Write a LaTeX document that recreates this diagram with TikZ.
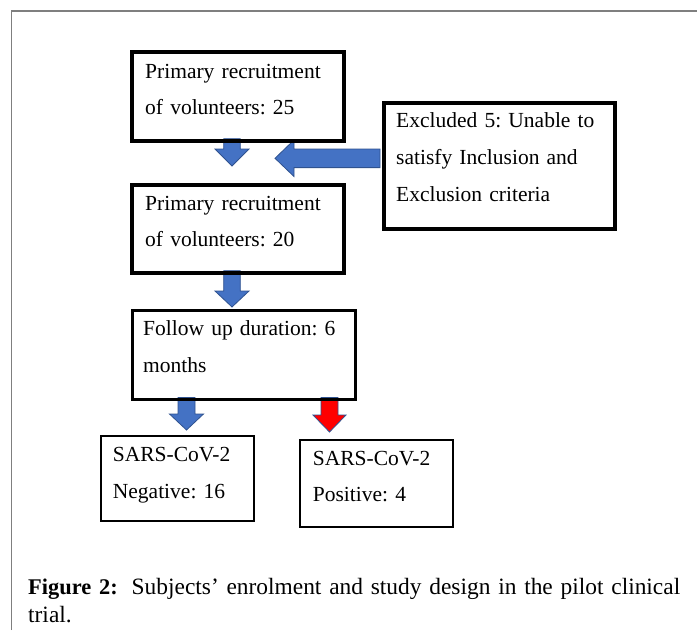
\documentclass[tikz,border=0pt]{standalone}
\usepackage{fontspec}
\setmainfont{Liberation Serif}
\frenchspacing
\newcommand{\boxfont}{\fontsize{21.5}{36.5}\selectfont}
\newcommand{\capfont}{\fontsize{23.4}{28}\selectfont}
\definecolor{arrowblue}{HTML}{4472C4}
\definecolor{arrowedge}{HTML}{2F528F}
\definecolor{framegray}{HTML}{7F7F7F}
\begin{document}
\frenchspacing
\begin{tikzpicture}[x=1pt,y=-1pt,
  bluearrow/.style={fill=arrowblue, draw=arrowedge, line width=0.8pt, line join=miter},
  redarrow/.style={fill=red, draw=arrowedge, line width=0.8pt, line join=miter},
  boxA/.style={draw=black, line width=4pt, rectangle, inner sep=0pt, anchor=north west},
  boxB/.style={draw=black, line width=3pt, rectangle, inner sep=0pt, anchor=north west},
  boxC/.style={draw=black, line width=1.8pt, rectangle, inner sep=0pt, anchor=north west},
  txt/.style={anchor=base west, inner sep=0pt, align=left, font=\boxfont},
  captxt/.style={anchor=base west, inner sep=0pt, align=left, font=\capfont}]
\useasboundingbox (0,0) rectangle (697,630);
\fill[white] (0,0) rectangle (697,630);
% frame
\draw[framegray, line width=1.3pt] (11.5,630) -- (11.5,11) -- (697,11);
% block arrows (drawn first, behind boxes)
\path[bluearrow] (223.7,138.7) -- (240.3,138.7) -- (240.3,149) -- (249,149) -- (232,166) -- (215,149) -- (223.7,149) -- cycle;
\path[bluearrow] (380,149) -- (294,149) -- (294,140) -- (275,158.3) -- (294,176.5) -- (294,167.6) -- (380,167.6) -- cycle;
\path[bluearrow] (223.7,270.7) -- (240.3,270.7) -- (240.3,291) -- (249,291) -- (232,307) -- (215,291) -- (223.7,291) -- cycle;
\path[bluearrow] (178,397.5) -- (195,397.5) -- (195,414) -- (203.5,414) -- (186.5,430) -- (169.5,414) -- (178,414) -- cycle;
\path[redarrow] (321,397.5) -- (338,397.5) -- (338,415) -- (346,415) -- (329.5,432) -- (313,415) -- (321,415) -- cycle;
% boxes
\node[boxA, minimum width=211.7pt, minimum height=88.4pt] (b1) at (130.3,50.3) {};
\node[boxA, minimum width=212pt, minimum height=88pt] (b2) at (130.3,182.7) {};
\node[boxA, minimum width=231pt, minimum height=126pt] (ex) at (382,101) {};
\node[boxB, minimum width=223.7pt, minimum height=88.7pt] (b3) at (130.5,308.8) {};
\node[boxC, minimum width=153pt, minimum height=85pt] (neg) at (100.3,435.3) {};
\node[boxC, minimum width=153pt, minimum height=86.7pt] (pos) at (299.3,439.3) {};
% texts
\node[txt, text width=190pt] (t1) at (145,78.3) {Primary recruitment\\of volunteers: 25};
\node[txt, text width=190pt] (t2) at (145,210) {Primary recruitment\\of volunteers: 20};
\node[txt, text width=201pt, font=\fontsize{21.5}{37}\selectfont] (t3) at (396,127.7)
  {\makebox[201pt][s]{Excluded 5: Unable to}\\\makebox[201pt][s]{satisfy Inclusion and}\\Exclusion criteria};
\node[txt, text width=195pt, font=\fontsize{21.5}{37}\selectfont] (t4) at (143,335)
  {\makebox[195pt][s]{Follow up duration: 6}\\months};
\node[txt, text width=135pt] (t5) at (112.7,461.7) {SARS-CoV-2\\Negative: 16};
\node[txt, text width=135pt] (t6) at (312.7,465) {SARS-CoV-2\\Positive: 4};
% caption
\node[captxt, text width=660pt] (cap) at (28,594)
  {\makebox[660pt][s]{{\fontsize{22.4}{28}\selectfont\bfseries Figure 2:}\hspace{14pt}Subjects’ enrolment and study design in the pilot clinical}\\trial.};
\end{tikzpicture}
\end{document}
